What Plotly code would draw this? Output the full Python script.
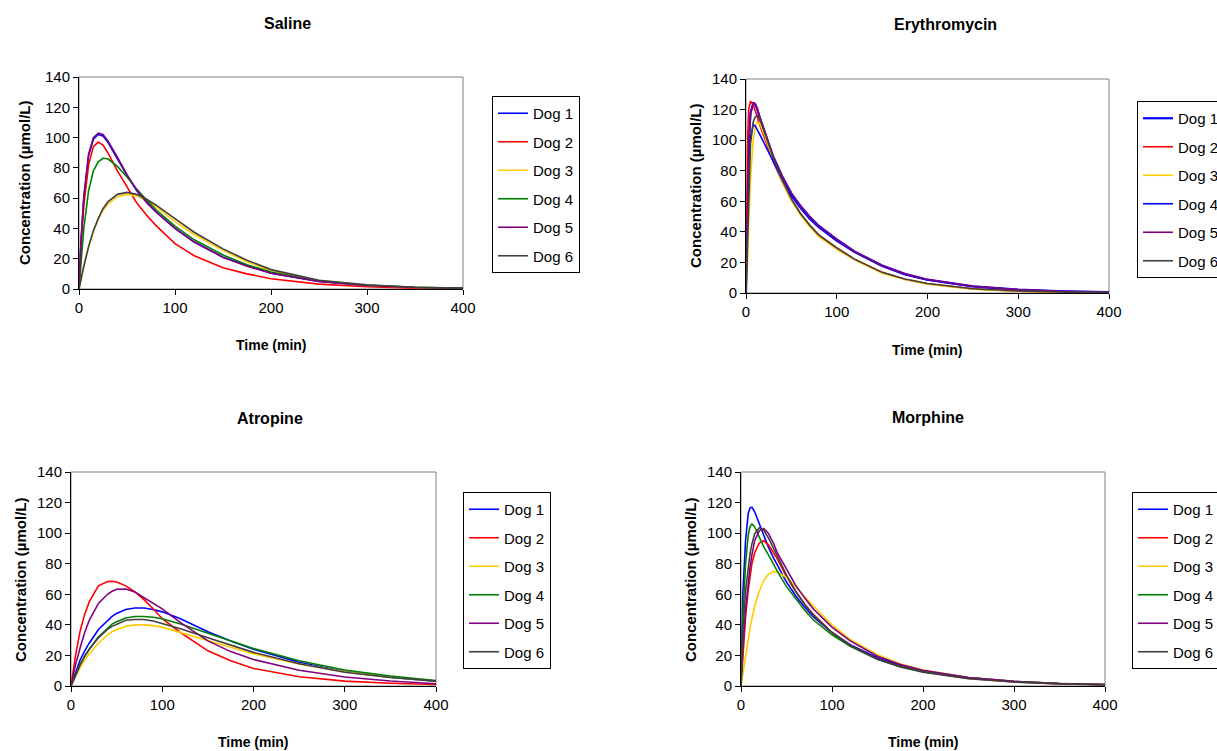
import plotly.graph_objects as go

# ---------------- data ----------------
dogs = ["Dog 1", "Dog 2", "Dog 3", "Dog 4", "Dog 5", "Dog 6"]

saline_t = [0, 2, 5, 10, 15, 20, 25, 30, 40, 50, 60, 70, 80, 100, 120, 150, 175, 200, 250, 300, 350, 400]
saline_d1 = [0, 30, 60, 88, 99, 102, 101, 97, 86, 75, 65, 57.5, 51, 40, 31, 21, 15.5, 10.5, 5, 2.3, 1.0, 0.4]
saline_d2 = [0, 28, 55, 82, 94, 97, 95, 90, 78, 67, 57, 49, 42, 30, 22, 14, 10, 6.8, 3.2, 1.5, 0.6, 0.3]
saline_d3 = [0, 7, 15, 28, 38, 46, 52, 56, 61, 62.5, 61.5, 58.5, 54.5, 44.5, 36, 25.5, 18, 12.2, 5.5, 2.5, 1.1, 0.5]
saline_d4 = [0, 18, 40, 65, 78, 84, 86.3, 86, 81, 74, 66, 59, 52.5, 41.5, 32.5, 22.5, 16, 11.2, 5.3, 2.5, 1.2, 0.6]
saline_d5 = [0, 31, 61, 89, 100, 103, 102, 98, 87, 75.5, 65.5, 57.5, 51, 40, 31, 21, 15, 10.5, 5, 2.3, 1.0, 0.4]
saline_d6 = [0, 7, 15, 28, 38.5, 46.5, 53, 57.5, 62.5, 63.8, 62.5, 59.5, 55.5, 46.5, 37.5, 26.5, 19, 12.8, 5.8, 2.7, 1.2, 0.5]

ery_t = [0, 1, 2, 3, 5, 8, 10, 12, 15, 20, 25, 30, 40, 50, 60, 70, 80, 100, 120, 150, 175, 200, 250, 300, 350, 400]
ery_d1 = [0, 40, 75, 98, 118, 124, 123.5, 121, 115, 106, 97, 89, 76, 65, 57, 50, 44, 35, 27, 18, 12.5, 8.7, 4.4, 2.2, 1.1, 0.6]
ery_d2 = [0, 70, 105, 120, 125.5, 123, 120, 116, 110, 102, 93.5, 86, 72.5, 61, 52, 44.5, 38, 29.5, 22, 13.5, 9, 6, 2.7, 1.2, 0.6, 0.3]
ery_d3 = [0, 10, 25, 45, 75, 100, 108, 111.5, 111, 104, 95.5, 87, 72.5, 60.5, 51, 43.5, 37, 28.5, 21.5, 13, 8.8, 5.8, 2.5, 1.1, 0.5, 0.3]
ery_d4 = [0, 30, 60, 82, 102, 110, 109.5, 107.5, 104, 98, 92, 86, 74, 63.5, 55.5, 48.5, 43, 34, 26.5, 17.5, 12, 8.5, 4.2, 2.1, 1.0, 0.5]
ery_d5 = [0, 38, 72, 96, 117, 124.5, 124, 121.5, 115.5, 106.5, 97.5, 89.5, 76.5, 65.5, 57, 50, 44, 35, 27, 18, 12.5, 8.8, 4.4, 2.2, 1.1, 0.6]
ery_d6 = [0, 20, 45, 70, 98, 112, 115, 116, 114, 106, 97, 88.5, 74, 61.5, 52, 44.5, 38, 29.5, 22, 13.5, 9.2, 6.2, 2.8, 1.3, 0.6, 0.3]

atr_t = [0, 5, 10, 15, 20, 30, 40, 45, 50, 60, 70, 80, 90, 100, 120, 150, 175, 200, 250, 300, 350, 400]
atr_d1 = [0, 9, 17, 23, 28, 37, 43, 45.5, 47.5, 50, 51, 51, 50, 48.5, 44, 35.5, 29.5, 24, 15.5, 9.5, 5.8, 3.2]
atr_d2 = [0, 20, 36, 47, 55, 65.5, 68.3, 68.5, 68, 65.5, 61.5, 56.5, 50.5, 44, 35, 23, 16.5, 11.5, 6, 3.2, 1.8, 1.0]
atr_d3 = [0, 6.5, 12, 17, 21, 28, 33.5, 35.5, 37, 39, 40, 40, 39.5, 38.5, 35, 29.5, 25, 21, 14.5, 9.3, 5.8, 3.3]
atr_d4 = [0, 7.5, 14, 19.5, 24, 32, 38, 40.5, 42, 44.5, 45.5, 45.5, 45, 44, 40.5, 34.5, 29.5, 24.5, 16.5, 10.5, 6.5, 3.6]
atr_d5 = [0, 14, 25, 35, 43, 54, 60, 62, 63.3, 63.5, 61.5, 58, 54.5, 50.5, 41.5, 29.5, 22.5, 17.3, 10.3, 5.9, 3.3, 1.5]
atr_d6 = [0, 7.5, 14, 19.5, 24, 31.5, 37, 39, 40.5, 43, 43.5, 43.5, 42.5, 41, 37.5, 31.5, 26.5, 22, 14.5, 9, 5.6, 3.2]

mor_t = [0, 2, 5, 8, 10, 12, 15, 20, 25, 30, 36, 40, 50, 60, 70, 80, 100, 120, 150, 175, 200, 250, 300, 350, 400]
mor_d1 = [0, 60, 95, 113, 116.5, 117, 114, 106, 98, 91, 83.5, 79, 68, 59, 51.5, 45, 35, 27, 18.5, 13.5, 10, 5.5, 3, 1.6, 0.9]
mor_d2 = [0, 20, 45, 63, 73, 80, 87, 93.5, 95, 92.5, 87, 83, 71.5, 62, 53.5, 46.5, 35, 26.5, 17.5, 12.7, 9.3, 5, 2.7, 1.4, 0.8]
mor_d3 = [0, 8, 20, 31, 38, 44, 52, 62, 69, 73, 75, 74.5, 71, 65, 58.5, 52, 40, 30.5, 20.5, 14.5, 10.5, 5.5, 3, 1.6, 0.9]
mor_d4 = [0, 45, 80, 99, 104.5, 106, 104, 97, 91, 86, 79, 75, 65, 57, 49.5, 43, 33.5, 26, 17.5, 12.8, 9.5, 5.3, 2.9, 1.6, 0.9]
mor_d5 = [0, 25, 50, 68, 78, 86, 95, 101.5, 103, 100, 93, 87, 76, 66, 57.5, 50, 38.5, 29.5, 19.5, 14, 10.3, 5.6, 3, 1.6, 0.9]
mor_d6 = [0, 35, 62, 78, 87, 93, 99.5, 103.5, 102, 97, 90, 85, 72.5, 62, 53.5, 46, 35, 26.5, 17.5, 12.5, 9, 4.8, 2.6, 1.4, 0.8]

x_ticks = [0, 100, 200, 300, 400]
y_ticks = [0, 20, 40, 60, 80, 100, 120, 140]

# ---------------- styling ----------------
W, H = 1217, 751
FONT = "Liberation Sans, Arial, sans-serif"
colors_std = ["#0000FF", "#FF0000", "#FFCC00", "#008000", "#800080", "#404040"]
colors_ery = ["#0000FF", "#FF0000", "#FFCC00", "#0000FF", "#800080", "#404040"]

panels = [
    dict(name="Saline", t=saline_t, ys=[saline_d1, saline_d2, saline_d3, saline_d4, saline_d5, saline_d6],
         colors=colors_std, px=(79, 463), py=(77, 289), leg=(492, 96),
         title=(287, 23), xt=(271, 345), yt=(24, 183)),
    dict(name="Erythromycin", t=ery_t, ys=[ery_d1, ery_d2, ery_d3, ery_d4, ery_d5, ery_d6],
         colors=colors_ery, px=(746, 1109), py=(79, 293), leg=(1137, 101),
         title=(946, 25), xt=(927, 350), yt=(695, 186)),
    dict(name="Atropine", t=atr_t, ys=[atr_d1, atr_d2, atr_d3, atr_d4, atr_d5, atr_d6],
         colors=colors_std, px=(71, 436), py=(472, 686), leg=(463, 492),
         title=(270, 418), xt=(253, 742), yt=(20, 580)),
    dict(name="Morphine", t=mor_t, ys=[mor_d1, mor_d2, mor_d3, mor_d4, mor_d5, mor_d6],
         colors=colors_std, px=(741, 1105), py=(472, 686), leg=(1132, 492),
         title=(928, 417), xt=(923, 742), yt=(690, 580)),
]

fig = go.Figure()
annotations = []
shapes = []
layout = dict(
    width=W, height=H,
    margin=dict(l=0, r=0, t=0, b=0, autoexpand=False),
    paper_bgcolor="white", plot_bgcolor="white",
    font=dict(family=FONT, size=15, color="black"),
    showlegend=True,
)

for i, p in enumerate(panels):
    k = i + 1
    xa = "x" if k == 1 else f"x{k}"
    ya = "y" if k == 1 else f"y{k}"
    lg = "legend" if k == 1 else f"legend{k}"
    for j, (name, ys, col) in enumerate(zip(dogs, p["ys"], p["colors"])):
        width = 2.2 if (p["name"] == "Erythromycin" and j == 0) else 1.6
        fig.add_trace(go.Scatter(
            x=p["t"], y=ys, mode="lines", name=name,
            line=dict(color=col, width=width),
            xaxis=xa, yaxis=ya, legend=lg, legendgroup=f"{p['name']}{j}",
            hoverinfo="skip",
        ))
    x0, x1 = p["px"]
    y0, y1 = p["py"]
    layout["xaxis" if k == 1 else f"xaxis{k}"] = dict(
        domain=[x0 / W, x1 / W], anchor=ya, range=[0, 400],
        tickvals=x_ticks, ticks="outside", ticklen=5, tickcolor="black",
        showline=True, linecolor="black", linewidth=1, showgrid=False, zeroline=False,
        tickfont=dict(size=15, family=FONT), fixedrange=True,
    )
    layout["yaxis" if k == 1 else f"yaxis{k}"] = dict(
        domain=[1 - y1 / H, 1 - y0 / H], anchor=xa, range=[0, 140],
        tickvals=y_ticks, ticks="outside", ticklen=5, tickcolor="black",
        showline=True, linecolor="black", linewidth=1, showgrid=False, zeroline=False,
        tickfont=dict(size=15, family=FONT), fixedrange=True,
    )
    lx, ly = p["leg"]
    layout[lg] = dict(
        x=lx / W, y=1 - ly / H, xanchor="left", yanchor="top",
        bordercolor="black", borderwidth=1, bgcolor="white",
        font=dict(size=15, family=FONT), itemwidth=30, tracegroupgap=6,
        traceorder="grouped",
    )
    shapes.append(dict(type="rect", xref=f"{xa} domain", yref=f"{ya} domain",
                       x0=0, x1=1, y0=0, y1=1, line=dict(color="#808080", width=1),
                       layer="below"))
    tx, ty = p["title"]
    annotations.append(dict(text=f"<b>{p['name']}</b>", x=tx / W, y=1 - ty / H,
                            xref="paper", yref="paper", showarrow=False,
                            xanchor="center", yanchor="middle",
                            font=dict(size=16, family=FONT)))
    ax_, ay_ = p["xt"]
    annotations.append(dict(text="<b>Time (min)</b>", x=ax_ / W, y=1 - ay_ / H,
                            xref="paper", yref="paper", showarrow=False,
                            xanchor="center", yanchor="middle",
                            font=dict(size=14, family=FONT)))
    bx, by = p["yt"]
    annotations.append(dict(text="<b>Concentration (µmol/L)</b>", x=bx / W, y=1 - by / H,
                            xref="paper", yref="paper", showarrow=False, textangle=-90,
                            xanchor="center", yanchor="middle",
                            font=dict(size=15, family=FONT)))

layout["annotations"] = annotations
layout["shapes"] = shapes
fig.update_layout(**layout)
fig.write_html("out.html")
